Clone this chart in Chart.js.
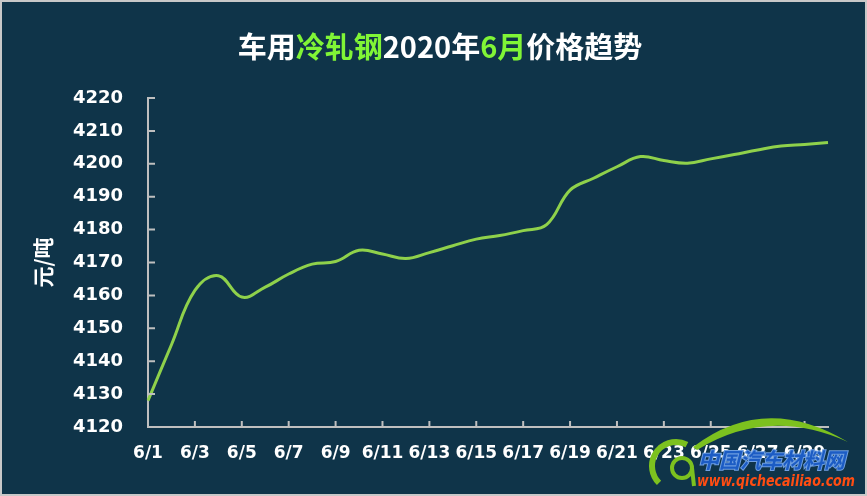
<!DOCTYPE html>
<html>
<head>
<meta charset="utf-8">
<script src="https://cdn.jsdelivr.net/npm/chart.js@4/dist/chart.umd.min.js"></script>
<style>
  html, body { margin: 0; padding: 0; background: #0f3449; }
  #wrap { width: 867px; height: 496px; }
</style>
</head>
<body>
<div id="wrap"><canvas id="priceChart" width="867" height="496"></canvas></div>
<script>
// 2020年6月 每日价格 (元/吨)
const days = [
  '6/1', '6/2', '6/3', '6/4', '6/5', '6/6', '6/7', '6/8', '6/9', '6/10',
  '6/11', '6/12', '6/13', '6/14', '6/15', '6/16', '6/17', '6/18', '6/19', '6/20',
  '6/21', '6/22', '6/23', '6/24', '6/25', '6/26', '6/27', '6/28', '6/29', '6/30'
];
const prices = [
  4128, 4145, 4161.5, 4166, 4159.5, 4162.5, 4166.5, 4169.5, 4170.3, 4173.7,
  4172.6, 4171.2, 4173, 4175.1, 4177.1, 4178.2, 4179.7, 4181.5, 4192, 4195.6,
  4199.1, 4202.2, 4201, 4200.2, 4201.5, 4202.8, 4204.2, 4205.4, 4205.9, 4206.5
];
const yMin = 4120;
const yMax = 4220;
const yStep = 10;
const titleParts = [
  ['车用', '#ffffff'],
  ['冷轧钢', '#80f536'],
  ['2020年', '#ffffff'],
  ['6月', '#80f536'],
  ['价格趋势', '#ffffff']
];
const yTitle = '元/吨';

const axisColor = '#bfbfbf';
const bg = '#0f3449';

const decor = {
  id: 'decor',
  beforeDraw(chart) {
    const {ctx, width, height} = chart;
    ctx.save();
    ctx.fillStyle = bg;
    ctx.fillRect(0, 0, width, height);
    ctx.restore();
  },
  afterDraw(chart) {
    const {ctx, chartArea, width, height} = chart;
    const xs = chart.scales.x, ys = chart.scales.y;
    ctx.save();

    // inward tick marks
    ctx.strokeStyle = axisColor;
    ctx.lineWidth = 2;
    ctx.beginPath();
    ys.ticks.forEach((t, i) => {
      const y = ys.getPixelForTick(i);
      ctx.moveTo(chartArea.left, y);
      ctx.lineTo(chartArea.left + 7, y);
    });
    xs.ticks.forEach((t, i) => {
      if (i % 2 !== 0) return;
      const x = xs.getPixelForTick(i);
      ctx.moveTo(x, chartArea.bottom);
      ctx.lineTo(x, chartArea.bottom - 6);
    });
    ctx.stroke();

    // two-colour title
    ctx.font = 'bold 29px "Noto Sans CJK SC"';
    ctx.textBaseline = 'middle';
    ctx.textAlign = 'left';
    let total = 0;
    titleParts.forEach(p => { total += ctx.measureText(p[0]).width; });
    let tx = 440 - total / 2;
    titleParts.forEach(p => {
      ctx.fillStyle = p[1];
      ctx.fillText(p[0], tx, 47);
      tx += ctx.measureText(p[0]).width;
    });

    // watermark logo
    ctx.fillStyle = '#7cc11f';
    ctx.beginPath();
    ctx.moveTo(693, 447);
    ctx.quadraticCurveTo(765, 392, 848, 442);
    ctx.quadraticCurveTo(768, 406, 697, 450);
    ctx.closePath();
    ctx.fill();
    ctx.strokeStyle = '#7cc11f';
    ctx.lineWidth = 6;
    ctx.beginPath();
    ctx.arc(676, 466, 24, -0.35 * Math.PI, 0.75 * Math.PI, true);
    ctx.stroke();
    ctx.lineWidth = 4;
    ctx.beginPath();
    ctx.arc(682, 468, 10, 0, 2 * Math.PI);
    ctx.stroke();
    ctx.beginPath();
    ctx.moveTo(692, 468);
    ctx.lineTo(694, 486);
    ctx.stroke();

    ctx.font = 'italic bold 21px "Noto Sans CJK SC"';
    ctx.textBaseline = 'alphabetic';
    ctx.lineWidth = 2;
    ctx.strokeStyle = '#6f9fe0';
    ctx.strokeText('中国汽车材料网', 698, 468, 160);
    ctx.fillStyle = '#1c5cc4';
    ctx.fillText('中国汽车材料网', 698, 468, 160);
    ctx.font = 'italic bold 15px "DejaVu Sans"';
    ctx.fillStyle = '#ff4d12';
    ctx.fillText('www.qichecailiao.com', 697, 486, 158);

    // frame
    ctx.strokeStyle = '#c8c8c8';
    ctx.lineWidth = 2;
    ctx.strokeRect(1, 1, width - 2, height - 2);
    ctx.restore();
  }
};

const ctx = document.querySelector('#priceChart');

const priceChart = new Chart(ctx, {
  type: 'line',
  data: {
    labels: days,
    datasets: [{
      label: '价格',
      data: prices,
      borderColor: '#8fd14b',
      borderWidth: 3,
      pointRadius: 0,
      tension: 0.4,
      fill: false
    }]
  },
  options: {
    responsive: false,
    animation: false,
    layout: {
      padding: {top: 98, right: 39, bottom: 0, left: 10}
    },
    plugins: {
      legend: {display: false},
      tooltip: {enabled: false}
    },
    scales: {
      x: {
        offset: false,
        grid: {display: true, drawOnChartArea: false, drawTicks: false},
        border: {display: true, color: axisColor, width: 2},
        ticks: {
          autoSkip: false,
          maxRotation: 0,
          padding: 16,
          color: '#ffffff',
          font: {family: 'DejaVu Sans', size: 17, weight: 'bold'},
          callback: (v, i) => (i % 2 === 0 ? days[i] : '')
        },
        afterFit: (scale) => { scale.height = 69; }
      },
      y: {
        min: yMin,
        max: yMax,
        grid: {display: true, drawOnChartArea: false, drawTicks: false},
        border: {display: true, color: axisColor, width: 2},
        ticks: {
          stepSize: yStep,
          padding: 25,
          color: '#ffffff',
          font: {family: 'DejaVu Sans', size: 18, weight: 'bold'},
          callback: (v) => String(v)
        },
        title: {
          display: true,
          text: yTitle,
          color: '#ffffff',
          padding: {top: 20, bottom: 0},
          font: {family: 'Noto Sans CJK SC', size: 21, weight: 'bold'}
        },
        afterFit: (scale) => { scale.width = 138; }
      }
    }
  },
  plugins: [decor]
});
</script>
</body>
</html>
